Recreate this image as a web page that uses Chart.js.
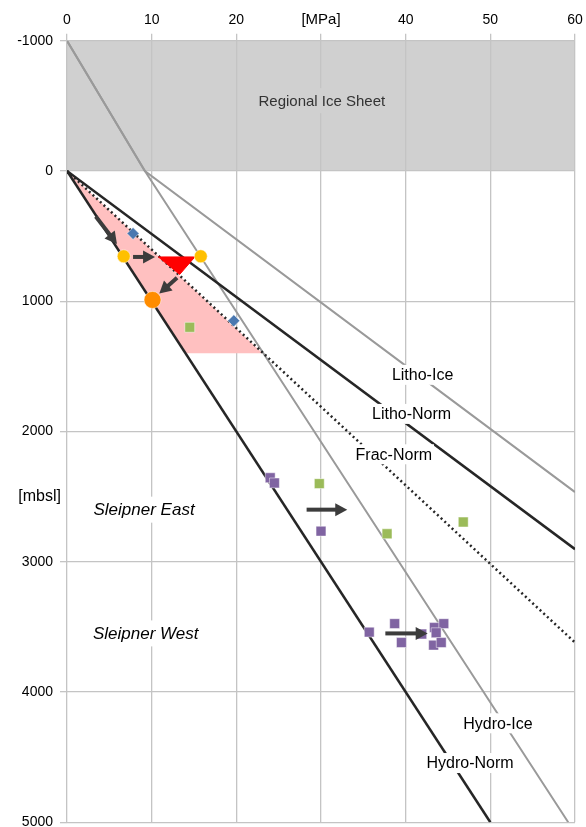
<!DOCTYPE html>
<html>
<head>
<meta charset="utf-8">
<script src="https://cdn.jsdelivr.net/npm/chart.js@4.4.1/dist/chart.umd.min.js"></script>
<style>
  html, body { margin: 0; padding: 0; background: #fff; overflow: hidden; }
  canvas { display: block; }
</style>
</head>
<body>
<canvas id="c" width="586" height="827" style="width:586px;height:827px"></canvas>
<script>
// ---- pressure [MPa] vs depth [mbsl] ----
const iceSheetDepth = [-1000, 0];

const hydroNormP = [0, 50];
const hydroNormD = [0, 5000];
const hydroIceP = [0, 9.2, 59.2];
const hydroIceD = [-1000, 0, 5000];
const lithoIceP = [0, 9.2, 60];
const lithoIceD = [-1000, 0, 2465];
const lithoNormP = [0, 60];
const lithoNormD = [0, 2903];
const fracNormP = [0, 60];
const fracNormD = [0, 3620];

// window between hydrostatic and fracture pressure (0-1400 m)
const windowP = [0, 23.1, 14, 0];
const windowD = [0, 1400, 1400, 0];

// red wedge marker
const wedgeP = [10.8, 15.1, 13.3, 10.8];
const wedgeD = [660, 660, 795, 660];

const blueP = [7.8, 19.7];
const blueD = [480, 1150];
const greenP = [14.5, 29.8, 37.8, 46.8];
const greenD = [1200, 2400, 2785, 2695];
const purpleP = [24.0, 24.5, 30.0, 35.7, 38.7, 39.5, 41.9, 43.4, 44.5, 43.6, 43.3, 44.2];
const purpleD = [2355, 2395, 2765, 3540, 3475, 3620, 3555, 3505, 3475, 3545, 3640, 3620];
const yellowP = [6.7, 15.8];
const yellowD = [655, 655];
const orangeP = [10.1];
const orangeD = [990];

// arrows: start -> tip
const arrowFromP = [3.4, 7.8, 13.0, 28.3, 37.6];
const arrowFromD = [350, 660, 820, 2600, 3550];
const arrowToP = [5.9, 10.4, 10.9, 33.1, 42.6];
const arrowToD = [560, 660, 940, 2600, 3550];

// tick labels
const xTickLabels = ['0', '10', '20', '[MPa]', '40', '50', '60'];
const yTickLabels = ['-1000', '0', '1000', '2000', '3000', '4000', '5000'];
const yUnitLabel = '[mbsl]';
const yUnitDepth = 2500;

// annotations
const noteText = ['Regional Ice Sheet', 'Litho-Ice', 'Litho-Norm', 'Frac-Norm', 'Hydro-Ice', 'Hydro-Norm', 'Sleipner East', 'Sleipner West'];
const noteP = [30.1, 42.0, 40.7, 38.6, 50.9, 47.6, 9.1, 9.3];
const noteD = [-540, 1565, 1865, 2175, 4240, 4545, 2600, 3550];

const FONT = '"Liberation Sans", Arial, Helvetica, sans-serif';
const noteStyle = [
  { size: 15, italic: false, color: '#333', bg: '#d0d0d0', padX: 3, boxH: 25 },
  { size: 16, italic: false, color: '#000', bg: '#fff', padX: 2, boxH: 20 },
  { size: 16, italic: false, color: '#000', bg: '#fff', padX: 2, boxH: 20 },
  { size: 16, italic: false, color: '#000', bg: '#fff', padX: 2, boxH: 20 },
  { size: 16, italic: false, color: '#000', bg: '#fff', padX: 2, boxH: 20 },
  { size: 16, italic: false, color: '#000', bg: '#fff', padX: 2, boxH: 20 },
  { size: 17, italic: true, color: '#000', bg: '#fff', padX: 3, boxH: 26 },
  { size: 17, italic: true, color: '#000', bg: '#fff', padX: 3, boxH: 26 }
];

const pts = (p, d) => p.map((v, i) => ({ x: v, y: d[i] }));

function lineSet(p, d, color, width, dash) {
  return {
    data: pts(p, d), showLine: true, borderColor: color, borderWidth: width,
    borderDash: dash || [], pointRadius: 0, pointHoverRadius: 0, fill: false, tension: 0, order: 3
  };
}
function markerSet(p, d, style, radius, color) {
  return {
    data: pts(p, d), showLine: false, pointStyle: style, pointRadius: radius, pointHoverRadius: radius,
    backgroundColor: color, borderColor: 'rgba(255,255,255,0.6)', borderWidth: 0.8, order: 0
  };
}

const iceBand = {
  id: 'iceBand',
  beforeDraw(chart) {
    const { ctx, chartArea, scales } = chart;
    const y0 = scales.y.getPixelForValue(iceSheetDepth[0]);
    const y1 = scales.y.getPixelForValue(iceSheetDepth[1]);
    ctx.save();
    ctx.fillStyle = '#d0d0d0';
    ctx.fillRect(chartArea.left, y0, chartArea.right - chartArea.left, y1 - y0);
    ctx.restore();
  }
};

const overlay = {
  id: 'overlay',
  afterDatasetsDraw(chart) {
    const { ctx, scales } = chart;
    const sx = scales.x, sy = scales.y;
    ctx.save();
    // arrows
    const col = '#3c3c3c';
    for (let i = 0; i < arrowFromP.length; i++) {
      const x1 = sx.getPixelForValue(arrowFromP[i]), y1 = sy.getPixelForValue(arrowFromD[i]);
      const x2 = sx.getPixelForValue(arrowToP[i]), y2 = sy.getPixelForValue(arrowToD[i]);
      const a = Math.atan2(y2 - y1, x2 - x1);
      const hl = 12, hw = 6.5;
      const bx = x2 - hl * Math.cos(a), by = y2 - hl * Math.sin(a);
      ctx.strokeStyle = col;
      ctx.fillStyle = col;
      ctx.lineWidth = 4;
      ctx.lineCap = 'butt';
      ctx.beginPath();
      ctx.moveTo(x1, y1);
      ctx.lineTo(bx + Math.cos(a), by + Math.sin(a));
      ctx.stroke();
      ctx.beginPath();
      ctx.moveTo(x2, y2);
      ctx.lineTo(bx - hw * Math.sin(a), by + hw * Math.cos(a));
      ctx.lineTo(bx + hw * Math.sin(a), by - hw * Math.cos(a));
      ctx.closePath();
      ctx.fill();
    }
    // text annotations with backing boxes
    ctx.textAlign = 'center';
    ctx.textBaseline = 'middle';
    for (let i = 0; i < noteText.length; i++) {
      const st = noteStyle[i];
      ctx.font = (st.italic ? 'italic ' : '') + st.size + 'px ' + FONT;
      const cx = sx.getPixelForValue(noteP[i]), cy = sy.getPixelForValue(noteD[i]);
      const w = ctx.measureText(noteText[i]).width;
      ctx.fillStyle = st.bg;
      ctx.fillRect(cx - w / 2 - st.padX, cy - st.boxH / 2, w + 2 * st.padX, st.boxH);
      ctx.fillStyle = st.color;
      ctx.fillText(noteText[i], cx, cy + 1);
    }
    ctx.restore();
  },
  afterDraw(chart) {
    const { ctx, chartArea, scales } = chart;
    ctx.save();
    ctx.font = '16px ' + FONT;
    ctx.fillStyle = '#000';
    ctx.textAlign = 'right';
    ctx.textBaseline = 'middle';
    ctx.fillText(yUnitLabel, chartArea.left - 6, scales.y.getPixelForValue(yUnitDepth));
    ctx.restore();
  }
};

const gridColor = '#c4c4c4';

new Chart(document.getElementById('c'), {
  type: 'scatter',
  data: {
    datasets: [
      markerSet(orangeP, orangeD, 'circle', 8.5, '#ff8c00'),
      markerSet(yellowP, yellowD, 'circle', 6.5, '#ffc000'),
      markerSet(blueP, blueD, 'rectRot', 6, '#4a78b0'),
      markerSet(greenP, greenD, 'rect', 7, '#9bbb59'),
      markerSet(purpleP, purpleD, 'rect', 7, '#8064a2'),
      {
        data: pts(wedgeP, wedgeD), showLine: true, fill: 'shape', backgroundColor: '#ff0000',
        borderColor: '#ff0000', borderWidth: 1, pointRadius: 0, tension: 0, order: 1
      },
      lineSet(lithoNormP, lithoNormD, '#262626', 2.5),
      lineSet(hydroNormP, hydroNormD, '#262626', 2.5),
      lineSet(fracNormP, fracNormD, '#262626', 2.5, [2, 3]),
      lineSet(lithoIceP, lithoIceD, '#9a9a9a', 2),
      lineSet(hydroIceP, hydroIceD, '#9a9a9a', 2),
      {
        data: pts(windowP, windowD), showLine: true, fill: 'shape', backgroundColor: '#ffc0c0',
        borderColor: 'rgba(0,0,0,0)', borderWidth: 0, pointRadius: 0, tension: 0, order: 6
      }
    ]
  },
  options: {
    responsive: false,
    animation: false,
    events: [],
    layout: { autoPadding: false, padding: { top: 0, left: 0, right: 11, bottom: 4.7 } },
    plugins: { legend: { display: false }, tooltip: { enabled: false } },
    scales: {
      x: {
        type: 'linear', position: 'top', min: 0, max: 60,
        afterFit: (s) => { s.height = 40.7; s.paddingLeft = 0; s.paddingRight = 0; s.paddingTop = 0; s.paddingBottom = 0; },
        grid: { color: gridColor, lineWidth: 1.3, tickLength: 7, drawTicks: true },
        border: { display: false },
        ticks: {
          stepSize: 10, autoSkip: false, maxRotation: 0, padding: 5, color: '#000',
          callback: (v) => xTickLabels[Math.round(v / 10)],
          font: (c) => ({ family: FONT, size: (c.tick && c.tick.value === 30) ? 15 : 14 })
        }
      },
      y: {
        type: 'linear', reverse: true, min: -1000, max: 5000,
        afterFit: (s) => { s.width = 67; s.paddingLeft = 0; s.paddingRight = 0; s.paddingTop = 0; s.paddingBottom = 0; },
        grid: { color: gridColor, lineWidth: 1.3, tickLength: 7 },
        border: { display: false },
        ticks: {
          stepSize: 1000, autoSkip: false, padding: 7, color: '#000',
          callback: (v) => yTickLabels[Math.round((v + 1000) / 1000)],
          font: { family: FONT, size: 14 }
        }
      }
    }
  },
  plugins: [iceBand, overlay]
});
</script>
</body>
</html>
